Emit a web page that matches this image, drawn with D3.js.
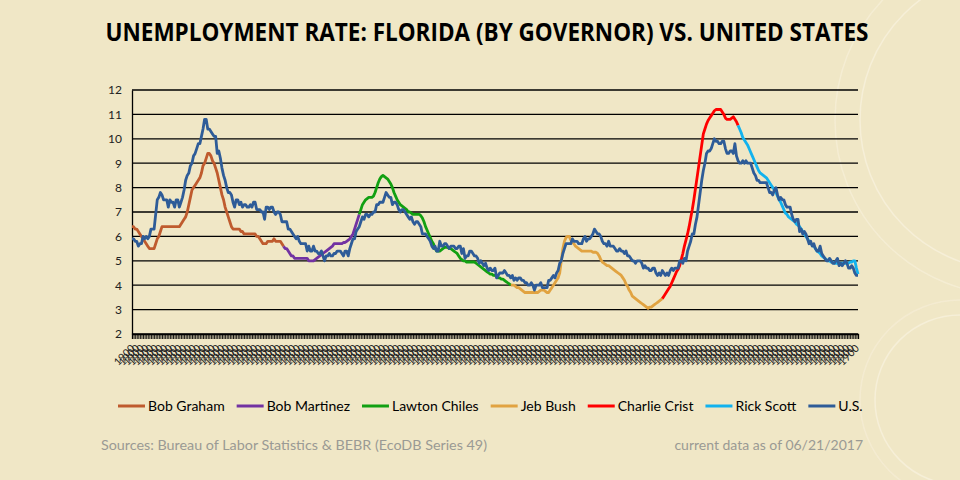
<!DOCTYPE html>
<meta charset="utf-8">
<script src="https://d3js.org/d3.v7.min.js"></script>
<style type="text/css">
  body { margin: 0; background: #F0E7C6; }
  svg { display: block; }
</style>
<body>
</body>
<script>

// monthly series, Jan 1979 .. May 2017
var startYear = 1979;

var usRate = [
  5.9,5.9,5.8,5.8,5.6,5.7,5.7,6.0,5.9,6.0,5.9,6.0,
  6.3,6.3,6.3,6.9,7.5,7.6,7.8,7.7,7.5,7.5,7.5,7.2,
  7.5,7.4,7.4,7.2,7.5,7.5,7.2,7.4,7.6,7.9,8.3,8.5,
  8.6,8.9,9.0,9.3,9.4,9.6,9.8,9.8,10.1,10.4,10.8,10.8,
  10.4,10.4,10.3,10.2,10.1,10.1,9.4,9.5,9.2,8.8,8.5,8.3,
  8.0,7.8,7.8,7.7,7.4,7.2,7.5,7.5,7.3,7.4,7.2,7.3,
  7.3,7.2,7.2,7.3,7.2,7.4,7.4,7.1,7.1,7.1,7.0,7.0,
  6.7,7.2,7.2,7.1,7.2,7.2,7.0,6.9,7.0,7.0,6.9,6.6,
  6.6,6.6,6.6,6.3,6.3,6.2,6.1,6.0,5.9,6.0,5.8,5.7,
  5.7,5.7,5.7,5.4,5.6,5.4,5.4,5.6,5.4,5.4,5.3,5.3,
  5.4,5.2,5.0,5.2,5.2,5.3,5.2,5.2,5.3,5.3,5.4,5.4,
  5.4,5.3,5.2,5.4,5.4,5.2,5.5,5.7,5.9,5.9,6.2,6.3,
  6.4,6.6,6.8,6.7,6.9,6.9,6.8,6.9,6.9,7.0,7.0,7.3,
  7.3,7.4,7.4,7.4,7.6,7.8,7.7,7.6,7.6,7.3,7.4,7.4,
  7.3,7.1,7.0,7.1,7.1,7.0,6.9,6.8,6.7,6.8,6.6,6.5,
  6.6,6.6,6.5,6.4,6.1,6.1,6.1,6.0,5.9,5.8,5.6,5.5,
  5.6,5.4,5.4,5.8,5.6,5.6,5.7,5.7,5.6,5.5,5.6,5.6,
  5.6,5.5,5.5,5.6,5.6,5.3,5.5,5.1,5.2,5.2,5.4,5.4,
  5.3,5.2,5.2,5.1,4.9,5.0,4.9,4.8,4.9,4.7,4.6,4.7,
  4.6,4.6,4.7,4.3,4.4,4.5,4.5,4.5,4.6,4.5,4.4,4.4,
  4.3,4.4,4.2,4.3,4.2,4.3,4.3,4.2,4.2,4.1,4.1,4.0,
  4.0,4.1,4.0,3.8,4.0,4.0,4.0,4.1,3.9,3.9,3.9,3.9,
  4.2,4.2,4.3,4.4,4.3,4.5,4.6,4.9,5.0,5.3,5.5,5.7,
  5.7,5.7,5.7,5.9,5.8,5.8,5.8,5.7,5.7,5.7,5.9,6.0,
  5.8,5.9,5.9,6.0,6.1,6.3,6.2,6.1,6.1,6.0,5.8,5.7,
  5.7,5.6,5.8,5.6,5.6,5.6,5.5,5.4,5.4,5.5,5.4,5.4,
  5.3,5.4,5.2,5.2,5.1,5.0,5.0,4.9,5.0,5.0,5.0,4.9,
  4.7,4.8,4.7,4.7,4.6,4.6,4.7,4.7,4.5,4.4,4.5,4.4,
  4.6,4.5,4.4,4.5,4.4,4.6,4.7,4.6,4.7,4.7,4.7,5.0,
  5.0,4.9,5.1,5.0,5.4,5.6,5.8,6.1,6.1,6.5,6.8,7.3,
  7.8,8.3,8.7,9.0,9.4,9.5,9.5,9.6,9.8,10.0,9.9,9.9,
  9.8,9.8,9.9,9.9,9.6,9.4,9.4,9.5,9.5,9.4,9.8,9.3,
  9.1,9.0,9.0,9.1,9.0,9.1,9.0,9.0,9.0,8.8,8.6,8.5,
  8.3,8.3,8.2,8.2,8.2,8.2,8.2,8.0,7.8,7.8,7.7,7.9,
  8.0,7.7,7.5,7.6,7.5,7.5,7.3,7.2,7.2,7.2,6.9,6.7,
  6.6,6.7,6.7,6.2,6.3,6.1,6.2,6.1,5.9,5.7,5.8,5.6,
  5.7,5.5,5.4,5.4,5.6,5.3,5.2,5.1,5.0,5.0,5.1,5.0,
  4.9,4.9,5.0,5.1,4.8,4.9,4.8,4.9,5.0,4.9,4.7,4.7,
  4.8,4.7,4.5,4.4,4.4
];

var flRate = [
  6.4,6.4,6.3,6.3,6.2,6.1,6.0,5.9,5.8,5.7,5.6,5.5,
  5.5,5.5,5.5,5.7,5.9,6.0,6.2,6.4,6.4,6.4,6.4,6.4,
  6.4,6.4,6.4,6.4,6.4,6.4,6.4,6.5,6.6,6.7,6.8,7.0,
  7.3,7.6,7.9,8.0,8.1,8.2,8.3,8.4,8.6,8.9,9.0,9.2,
  9.4,9.4,9.3,9.1,9.0,8.8,8.6,8.3,8.0,7.7,7.5,7.2,
  7.0,6.8,6.6,6.4,6.3,6.3,6.3,6.3,6.3,6.2,6.2,6.1,
  6.1,6.1,6.1,6.1,6.1,6.1,6.1,6.0,6.0,5.9,5.8,5.7,
  5.7,5.7,5.8,5.8,5.8,5.8,5.9,5.8,5.8,5.8,5.8,5.7,
  5.6,5.5,5.5,5.4,5.3,5.2,5.2,5.1,5.1,5.1,5.1,5.1,
  5.1,5.1,5.1,5.1,5.0,5.0,5.0,5.0,5.05,5.1,5.15,5.2,
  5.25,5.3,5.35,5.4,5.45,5.5,5.55,5.6,5.7,5.7,5.7,5.7,
  5.7,5.7,5.75,5.75,5.8,5.85,5.9,6.0,6.1,6.3,6.5,6.7,
  6.9,7.1,7.3,7.4,7.5,7.55,7.6,7.6,7.6,7.65,7.8,8.0,
  8.2,8.35,8.45,8.5,8.45,8.4,8.35,8.25,8.15,8.0,7.8,7.65,
  7.5,7.4,7.3,7.25,7.2,7.15,7.1,7.0,7.0,6.95,6.9,6.9,
  6.9,6.9,6.9,6.85,6.75,6.6,6.4,6.25,6.1,5.95,5.8,5.7,
  5.5,5.4,5.4,5.4,5.45,5.5,5.55,5.55,5.55,5.5,5.5,5.45,
  5.4,5.35,5.3,5.2,5.1,5.05,5.0,5.0,4.95,4.95,4.95,4.95,
  4.95,4.95,4.9,4.85,4.8,4.75,4.7,4.65,4.6,4.55,4.5,4.45,
  4.45,4.4,4.4,4.35,4.3,4.3,4.25,4.25,4.2,4.15,4.1,4.05,
  4.0,4.0,4.0,3.95,3.9,3.9,3.85,3.8,3.75,3.7,3.7,3.7,
  3.7,3.7,3.7,3.7,3.7,3.7,3.75,3.8,3.8,3.8,3.75,3.7,
  3.7,3.8,3.9,4.0,4.1,4.2,4.3,4.5,5.0,5.5,5.8,5.95,
  6.0,6.0,5.85,5.75,5.7,5.6,5.55,5.5,5.45,5.4,5.4,5.4,
  5.4,5.4,5.4,5.4,5.35,5.35,5.35,5.3,5.2,5.05,4.95,4.9,
  4.85,4.8,4.8,4.75,4.7,4.65,4.6,4.55,4.5,4.45,4.4,4.3,
  4.2,4.05,3.95,3.8,3.7,3.55,3.5,3.45,3.4,3.35,3.3,3.25,
  3.2,3.15,3.1,3.05,3.1,3.1,3.15,3.2,3.25,3.3,3.35,3.4,
  3.45,3.55,3.65,3.75,3.85,3.95,4.1,4.25,4.4,4.55,4.65,4.8,
  5.05,5.3,5.6,5.85,6.1,6.4,6.75,7.1,7.5,7.95,8.4,8.85,
  9.3,9.75,10.2,10.4,10.6,10.75,10.85,10.95,11.05,11.15,11.2,11.2,
  11.2,11.2,11.1,11.0,10.85,10.8,10.8,10.8,10.85,10.9,10.8,10.7,
  10.55,10.4,10.25,10.05,9.95,9.85,9.75,9.6,9.45,9.3,9.15,9.0,
  8.85,8.7,8.6,8.55,8.5,8.45,8.4,8.3,8.2,8.1,8.0,7.9,
  7.8,7.65,7.5,7.4,7.25,7.1,6.95,6.9,6.8,6.75,6.7,6.65,
  6.6,6.5,6.45,6.4,6.3,6.2,6.1,6.0,5.9,5.8,5.7,5.65,
  5.6,5.5,5.4,5.35,5.3,5.2,5.15,5.1,5.05,5.0,5.0,4.95,
  4.95,4.9,4.9,4.9,4.9,4.9,4.9,4.9,4.9,4.9,4.9,4.95,
  4.95,5.0,5.0,4.7,4.45
];

var governors = ["Bob Graham", "Bob Martinez", "Lawton Chiles", "Jeb Bush", "Charlie Crist", "Rick Scott"];
var govStart = ["1979-01", "1987-01", "1991-01", "1999-01", "2007-01", "2011-01"];
var govColors = ["#BF5B2E", "#7232A2", "#12A012", "#E1A341", "#FF0000", "#12B2EE"];
var usColor = "#2E5C98";

var yTicks = [2, 3, 4, 5, 6, 7, 8, 9, 10, 11, 12];
var xTickLabel = "1900";

var W = 960, H = 480;
var margin = {left: 132, right: 102, top: 90, bottom: 146};

var months = usRate.map(function(d, i) {
  var m = startYear * 12 + i;
  return Math.floor(m / 12) + "-" + String(m % 12 + 1).padStart(2, "0");
});

var svg = d3.select("body").append("svg")
  .attr("width", W)
  .attr("height", H);

// faint background rings
var rings = svg.append("g").attr("fill", "none").attr("stroke", "#F6EFD8").attr("stroke-width", 1.5);
rings.append("circle").attr("cx", 1010).attr("cy", 120).attr("r", 150);
rings.append("circle").attr("cx", 1010).attr("cy", 120).attr("r", 175).attr("stroke-opacity", 0.7);
rings.append("circle").attr("cx", 960).attr("cy", 400).attr("r", 85);
rings.append("circle").attr("cx", 960).attr("cy", 400).attr("r", 100).attr("stroke-opacity", 0.6);

svg.append("text")
  .attr("x", 487)
  .attr("y", 41)
  .attr("text-anchor", "middle")
  .attr("textLength", 763)
  .attr("lengthAdjust", "spacingAndGlyphs")
  .style("font-family", "'Liberation Sans Narrow', 'Open Sans', sans-serif")
  .style("font-weight", "bold")
  .style("font-size", "25px")
  .style("fill", "#000")
  .text("UNEMPLOYMENT RATE: FLORIDA (BY GOVERNOR) VS. UNITED STATES");

var x = d3.scalePoint()
  .domain(months)
  .range([margin.left, W - margin.right]);

var y = d3.scaleLinear()
  .domain([2, 12])
  .range([H - margin.bottom, margin.top]);

// gridlines
svg.append("g")
  .selectAll("line")
  .data(yTicks)
  .enter().append("line")
  .attr("x1", margin.left)
  .attr("x2", W - margin.right)
  .attr("y1", function(d) { return y(d); })
  .attr("y2", function(d) { return y(d); })
  .attr("stroke", "#000")
  .attr("stroke-width", 1.3);

var yAxis = d3.axisLeft(y).tickValues(yTicks).tickSize(0).tickPadding(10);
var yAxisGroup = svg.append("g")
  .attr("transform", "translate(" + margin.left + ",0)")
  .call(yAxis);
yAxisGroup.select(".domain").attr("stroke", "#000").attr("stroke-width", 1.3);
yAxisGroup.selectAll("text")
  .style("font-family", "Lato, sans-serif")
  .style("font-size", "12px")
  .style("fill", "#222");

var xAxis = d3.axisBottom(x)
  .tickValues(months)
  .tickSize(5)
  .tickFormat(function(d, i) { return i % 3 == 0 ? xTickLabel : ""; });

var xAxisGroup = svg.append("g")
  .attr("transform", "translate(0," + (H - margin.bottom) + ")")
  .call(xAxis);
xAxisGroup.select(".domain").attr("stroke", "#000").attr("stroke-width", 1.3);
xAxisGroup.selectAll("line").attr("stroke", "#000").attr("stroke-width", 0.9);
xAxisGroup.selectAll("text")
  .attr("x", 0).attr("y", 0).attr("dy", 0)
  .attr("transform", "translate(3,15) rotate(-45)")
  .style("text-anchor", "end")
  .style("font-family", "Lato, sans-serif")
  .style("font-size", "10.5px")
  .style("fill", "#222");

// florida, one segment per governor
var line = d3.line()
  .x(function(d) { return x(d.month); })
  .y(function(d) { return y(d.rate); });

governors.forEach(function(g, k) {
  var a = months.indexOf(govStart[k]);
  var b = k + 1 < governors.length ? months.indexOf(govStart[k + 1]) : months.length - 1;
  var seg = [];
  for (var i = a; i <= b; i++) seg.push({month: months[i], rate: flRate[i]});
  svg.append("path")
    .datum(seg)
    .attr("d", line)
    .attr("fill", "none")
    .attr("stroke", govColors[k])
    .attr("stroke-width", 2.8)
    .attr("stroke-linejoin", "round");
});

svg.append("path")
  .datum(usRate.map(function(d, i) { return {month: months[i], rate: d}; }))
  .attr("d", line)
  .attr("fill", "none")
  .attr("stroke", usColor)
  .attr("stroke-width", 2.8)
  .attr("stroke-linejoin", "round");

// legend
var legendNames = governors.concat(["U.S."]);
var legendColors = govColors.concat([usColor]);
var lx = 118;
legendNames.forEach(function(n, k) {
  var g = svg.append("g").attr("transform", "translate(" + lx + ",406)");
  g.append("line")
    .attr("x1", 0).attr("x2", 27)
    .attr("stroke", legendColors[k])
    .attr("stroke-width", 3);
  var t = g.append("text")
    .attr("x", 30)
    .attr("dy", "0.35em")
    .style("font-family", "Lato, sans-serif")
    .style("font-size", "14px")
    .style("fill", "#000")
    .text(n);
  lx += 30 + t.node().getComputedTextLength() + 12;
});

svg.append("text")
  .attr("x", 101)
  .attr("y", 450)
  .attr("textLength", 386)
  .attr("lengthAdjust", "spacingAndGlyphs")
  .style("font-family", "Lato, sans-serif")
  .style("font-size", "14px")
  .style("fill", "#9A9A94")
  .text("Sources: Bureau of Labor Statistics & BEBR (EcoDB Series 49)");

svg.append("text")
  .attr("x", 863)
  .attr("y", 450)
  .attr("text-anchor", "end")
  .style("font-family", "Lato, sans-serif")
  .style("font-size", "14px")
  .style("fill", "#9A9A94")
  .text("current data as of 06/21/2017");

</script>
